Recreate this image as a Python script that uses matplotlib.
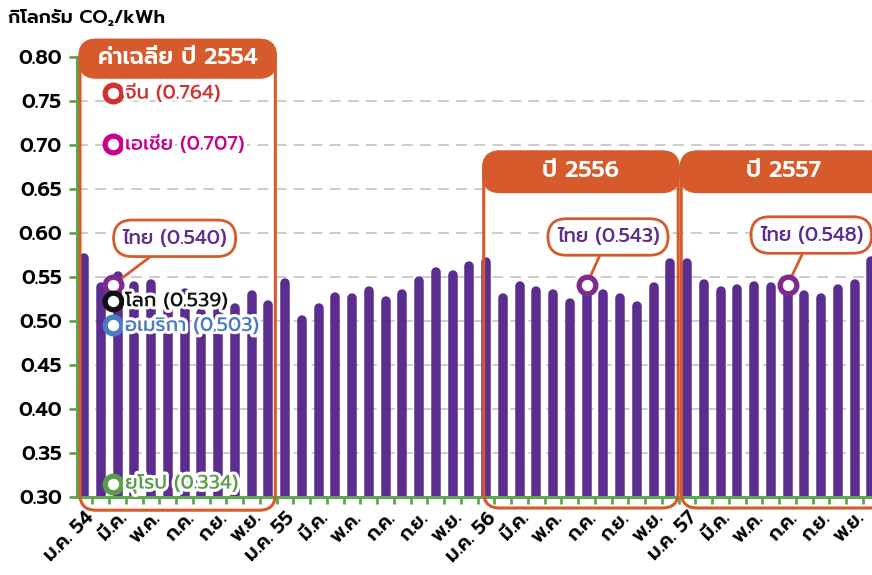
import matplotlib
matplotlib.use("Agg")
import matplotlib.pyplot as plt
from matplotlib.patches import FancyBboxPatch
import matplotlib.patheffects as pe

plt.rcParams["font.family"] = ["Prompt", "DejaVu Sans"]

# ค่าการปล่อย CO2 รายเดือน (กก. CO2/kWh) ม.ค. 54 - ธ.ค. 57
co2_2554 = [0.577, 0.544, 0.557, 0.545, 0.548, 0.525, 0.537, 0.515, 0.525, 0.520, 0.535, 0.524]
co2_2555 = [0.549, 0.507, 0.520, 0.533, 0.531, 0.539, 0.528, 0.536, 0.551, 0.561, 0.558, 0.568]
co2_2556 = [0.573, 0.532, 0.545, 0.539, 0.536, 0.526, 0.541, 0.536, 0.532, 0.522, 0.544, 0.571]
co2_2557 = [0.571, 0.548, 0.539, 0.542, 0.545, 0.544, 0.541, 0.535, 0.531, 0.542, 0.548, 0.574]
values = co2_2554 + co2_2555 + co2_2556 + co2_2557

months = ["ม.ค.", "ก.พ.", "มี.ค.", "เม.ย.", "พ.ค.", "มิ.ย.",
          "ก.ค.", "ส.ค.", "ก.ย.", "ต.ค.", "พ.ย.", "ธ.ค."]
years = ["54", "55", "56", "57"]

# ค่าเฉลี่ยปี 2554
regions = ["จีน", "เอเชีย", "ไทย", "โลก", "อเมริกา", "ยุโรป"]
region_avg = [0.764, 0.707, 0.540, 0.539, 0.503, 0.334]
thai_avg_2556 = 0.543
thai_avg_2557 = 0.548

PURPLE = "#5b2d8e"
MARK = "#7e2a8f"
ORANGE = "#d65a2b"
GREEN = "#5ea651"
region_colors = ["#d0312d", "#c9008b", MARK, "#111111", "#4a7cc0", "#5a9e4a"]
text_colors = ["#d0312d", "#c9008b", PURPLE, "#111111", "#4a7cc0", "#5a9e4a"]

fig = plt.figure(figsize=(8.72, 5.75), dpi=100)
ax = fig.add_axes([77 / 872, 78 / 575, 795 / 872, 440 / 575])
xs = list(range(len(values)))

# ป้ายแกน x ทุก 2 เดือน
labels = []
for i in range(0, len(values), 2):
    m = months[i % 12]
    if i % 12 == 0:
        m = f"{m} {years[i // 12]}"
    labels.append(m)
ax.set_xticks(xs[::2])
ax.set_xticklabels(labels, rotation=45, ha="right", rotation_mode="anchor",
                   fontsize=14, fontweight="semibold")
ax.tick_params(axis="x", length=0, pad=8)
ax.set_xticks([x - 0.5 for x in xs] + [xs[-1] + 0.5], minor=True)
ax.tick_params(axis="x", which="minor", colors=GREEN, length=5, width=2)

ax.set_yticks([0.30 + 0.05 * i for i in range(11)])
ax.set_yticklabels([f"{0.30 + 0.05 * i:.2f}" for i in range(11)])

ax.set_xlim(-0.42, 47.04)
ax.set_ylim(0.30, 0.80)

# ขนาดพิกเซลต่อหน่วยข้อมูล
px_x = ax.bbox.width / (47.04 + 0.42)
px_y = ax.bbox.height / 0.50

# แท่งกราฟปลายมน
bar_px = 9.5
cap = bar_px / 2 / px_y
for x, v in zip(xs, values):
    ax.plot([x, x], [0.29, v - cap], color=PURPLE, lw=bar_px * 0.72,
            solid_capstyle="round", zorder=2)

# เส้นกริด
for t in ax.get_yticks()[1:-1]:
    ax.axhline(t, color="#c8c8c8", lw=1.3, ls=(0, (6, 4)), zorder=0)

for s in ["top", "right"]:
    ax.spines[s].set_visible(False)
for s in ["left", "bottom"]:
    ax.spines[s].set_color(GREEN)
    ax.spines[s].set_linewidth(2.2)
    ax.spines[s].set_zorder(5)

ax.tick_params(axis="y", colors=GREEN, length=6, width=2, labelsize=14.5,
               labelcolor="black", pad=5)
for lab in ax.get_yticklabels():
    lab.set_fontweight("semibold")

fig.text(8 / 872, 1 - 18 / 575, "กิโลกรัม CO₂/kWh", fontsize=13.5,
         fontweight="semibold", va="center", ha="left")

# กรอบปีมุมมน
aspect = px_x / px_y


def year_box(x0, x1, y0, y1, head, title):
    r = 16 / px_x
    ax.add_patch(FancyBboxPatch((x0, y0), x1 - x0, y1 - y0,
                                boxstyle=f"round,pad=0,rounding_size={r}",
                                mutation_aspect=aspect, fc="none", ec=ORANGE,
                                lw=2.2, clip_on=False, zorder=6))
    ax.add_patch(FancyBboxPatch((x0, head), x1 - x0, y1 - head,
                                boxstyle=f"round,pad=0,rounding_size={r}",
                                mutation_aspect=aspect, fc=ORANGE, ec=ORANGE,
                                lw=2.2, clip_on=False, zorder=7))
    ax.text((x0 + x1) / 2, (head + y1) / 2, title, color="white", fontsize=16.5,
            fontweight="semibold", ha="center", va="center", zorder=8,
            clip_on=False)


year_box(-0.24, 11.42, 0.285, 0.819, 0.777, "ค่าเฉลี่ย ปี 2554")
year_box(23.86, 35.47, 0.2875, 0.692, 0.647, "ปี 2556")
year_box(35.65, 47.9, 0.2875, 0.692, 0.647, "ปี 2557")

# จุดค่าเฉลี่ยของแต่ละภูมิภาค
mark_x = 1.73
mark_y = [0.759, 0.701, 0.541, 0.523, 0.495, 0.315]

for name, v, y, c, tc in zip(regions, region_avg, mark_y, region_colors, text_colors):
    ax.plot(mark_x, y, "o", ms=12, mfc="white", mec=c, mew=3.8, zorder=9)
    if name == "ไทย":
        continue
    ax.text(mark_x + 0.72, y, f"{name} ({v:.3f})", color=tc, fontsize=14,
            fontweight="medium", va="center", ha="left", zorder=9,
            path_effects=[pe.withStroke(linewidth=4.5, foreground="white")])

callouts = [
    (mark_x, mark_y[2], region_avg[2], 5.41, 0.594),
    (30, values[30], thai_avg_2556, 31.28, 0.5955),
    (42, values[42], thai_avg_2557, 43.42, 0.5977),
]
for mx, my, v, tx, ty in callouts:
    if mx != mark_x:
        ax.plot(mx, my, "o", ms=12, mfc="white", mec=MARK, mew=3.8, zorder=9)
    ax.annotate(f"ไทย ({v:.3f})", xy=(mx, my), xytext=(tx, ty),
                color=PURPLE, fontsize=14, fontweight="medium",
                ha="center", va="center", zorder=8,
                bbox=dict(boxstyle="round,pad=0.45,rounding_size=0.95",
                          fc="white", ec=ORANGE, lw=2),
                arrowprops=dict(arrowstyle="-", color=ORANGE, lw=2,
                                shrinkA=0, shrinkB=7.5))

fig.savefig("out.png", dpi=100)
